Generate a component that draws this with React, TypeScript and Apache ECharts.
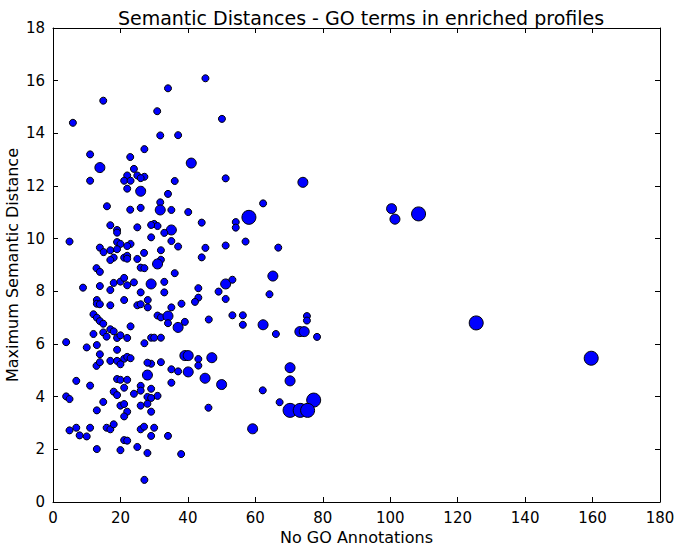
import React, { useEffect, useRef } from "react";
import * as echarts from "echarts";

const titleText = "Semantic Distances - GO terms in enriched profiles";
const xName = "No GO Annotations";
const yName = "Maximum Semantic Distance";
const xTicks = [0, 20, 40, 60, 80, 100, 120, 140, 160, 180];
const yTicks = [0, 2, 4, 6, 8, 10, 12, 14, 16, 18];

// [No GO annotations, max semantic distance, marker size class]
const points: [number, number, number][] = [
  [14.9, 15.24, 1], [5.9, 14.4, 1], [30.9, 14.84, 1], [31.8, 13.92, 1], [11, 13.2, 1], [22.9, 13.1, 1],
  [27.1, 13.4, 1], [13.9, 12.7, 2], [24, 12.65, 1], [22, 12.4, 1], [25, 12.4, 1], [27.1, 12.35, 1],
  [26, 12.3, 1], [21.1, 12.2, 1], [23, 12.2, 1], [11, 12.2, 1], [22, 11.9, 1], [26, 11.8, 2],
  [16, 11.23, 1], [22.9, 11.1, 1], [26, 11.17, 1], [31.8, 11.38, 1], [31.8, 11.09, 2],
  [45.2, 16.09, 1], [34.1, 15.71, 1], [50.1, 14.55, 1], [37.1, 13.93, 1], [41, 12.87, 2], [51.2, 12.29, 1],
  [36.1, 12.19, 1], [34.1, 11.7, 1], [35.1, 11.09, 1], [40.1, 11.01, 1], [62.3, 11.34, 1], [58.1, 10.81, 3],
  [44.1, 10.61, 1], [54.2, 10.63, 1], [54.2, 10.42, 1], [30, 10.56, 1], [31, 10.48, 1], [35.1, 10.33, 2],
  [33, 10.22, 1], [29.1, 10.05, 1], [35.1, 9.91, 1], [57.1, 9.89, 1], [37.1, 9.7, 1], [45.2, 9.65, 1],
  [51.2, 9.74, 1], [66.8, 9.66, 1], [32, 9.56, 1], [44.1, 9.29, 1], [32, 9.2, 1], [31, 9.04, 2],
  [36.1, 8.69, 1], [29.1, 8.28, 2], [33, 8.36, 1], [33, 7.96, 1], [51.2, 8.28, 2], [53.2, 8.44, 1],
  [65.2, 8.58, 2], [49.1, 7.99, 1], [43.1, 8.12, 1], [43.1, 7.76, 1], [51.2, 7.71, 1], [64.2, 7.89, 1],
  [42.1, 7.6, 1], [38.1, 7.53, 1], [35.1, 7.39, 1], [31, 7.08, 1], [32, 7.01, 1], [34.1, 7.06, 2],
  [34.1, 6.79, 1], [39.1, 6.84, 1], [37.1, 6.63, 2], [46.2, 6.93, 1], [53.2, 7.09, 1], [56.3, 7.09, 1],
  [56.3, 6.73, 1], [62.3, 6.73, 2], [66.1, 6.38, 1], [29.1, 6.24, 1], [30, 6.24, 1], [32, 6.24, 1],
  [39.1, 5.56, 2], [40.1, 5.56, 2], [43.1, 5.43, 1], [47.1, 5.48, 2],
  [29.1, 5.25, 1], [32, 5.31, 1], [35.1, 5.04, 1], [37.1, 4.96, 1], [40.1, 4.94, 2], [43.1, 5.18, 1],
  [45.1, 4.7, 2], [50, 4.46, 2], [35.1, 4.53, 1], [29.1, 4.3, 1], [31, 4.03, 1], [29.1, 3.43, 1],
  [46.1, 3.58, 1], [62.2, 4.24, 1], [30, 2.82, 1], [29.1, 2.51, 1], [34.1, 2.51, 1], [38, 1.82, 1],
  [59.2, 2.78, 2],
  [74.1, 12.14, 2], [75.3, 7.06, 1], [75.3, 6.89, 1], [73.2, 6.47, 2], [74.5, 6.47, 2], [78.3, 6.27, 1],
  [70.3, 5.1, 2], [70.3, 4.6, 2], [67.2, 3.79, 1],
  [100.4, 11.14, 2], [101.4, 10.74, 2], [108.4, 10.94, 3], [125.5, 6.8, 3], [159.6, 5.46, 3],
  [17, 10.51, 1], [19, 10.33, 1], [19, 10.23, 1], [25, 10.43, 1], [29.1, 10.52, 1], [4.9, 9.89, 1],
  [19, 9.87, 1], [20, 9.8, 1], [23, 9.8, 1], [22, 9.72, 1], [13.9, 9.66, 1], [15, 9.49, 1],
  [17, 9.56, 1], [19, 9.6, 1], [21.1, 9.28, 1], [22, 9.35, 1], [22, 9.24, 1], [25, 9.23, 1],
  [27, 9.46, 1], [18, 9.28, 1], [17, 9.19, 1], [26, 8.9, 1], [27.1, 8.88, 1], [12.9, 8.88, 1],
  [13.9, 8.74, 1], [18, 8.32, 1], [20, 8.37, 1], [21.1, 8.51, 1], [22, 8.23, 1], [24, 8.34, 1],
  [8.9, 8.14, 1], [13.9, 8.2, 1], [17, 8.05, 1], [26, 7.96, 1], [13, 7.67, 1], [13, 7.53, 1],
  [13.9, 7.51, 1], [17, 7.47, 1], [21.1, 7.67, 1], [25, 7.47, 1], [26, 7.51, 1], [28.1, 7.67, 1],
  [28.1, 7.39, 1], [12, 7.13, 1], [13, 7.0, 1], [13.9, 6.87, 1], [14.9, 6.77, 1], [23, 6.67, 1],
  [17, 6.56, 1], [18, 6.48, 1], [12, 6.38, 1], [14.9, 6.44, 1], [15.9, 6.28, 1], [19, 6.23, 1],
  [20, 6.33, 1], [22, 6.23, 1], [3.9, 6.07, 1], [10, 5.87, 1], [13, 5.96, 1], [19, 5.78, 1],
  [27.1, 6.03, 1], [13.9, 5.61, 1], [21.1, 5.44, 1], [22, 5.51, 1], [23, 5.46, 1],
  [17, 5.36, 1], [19, 5.36, 1], [20, 5.23, 1], [12.9, 5.17, 1], [13.9, 5.31, 1], [28, 5.29, 1],
  [28, 4.82, 2], [6.9, 4.6, 1], [11, 4.42, 1], [19, 4.67, 1], [20, 4.64, 1], [22, 4.64, 1],
  [26, 4.41, 1], [26, 4.23, 1], [18, 4.19, 1], [19, 4.06, 1], [21.1, 4.34, 1], [24, 4.11, 1],
  [28, 3.99, 1], [29.1, 3.95, 1], [3.9, 4.01, 1], [4.9, 3.91, 1], [14.9, 3.8, 1], [13, 3.48, 1],
  [20, 3.66, 1], [21.1, 3.72, 1], [22, 3.43, 1], [21.1, 3.25, 1], [26, 3.66, 1], [28, 3.73, 1],
  [4.9, 2.72, 1], [6.9, 2.82, 1], [7.9, 2.53, 1], [10, 2.49, 1], [11, 2.82, 1], [15.9, 2.82, 1],
  [17, 2.76, 1], [18, 2.95, 1], [26, 2.76, 1], [27, 2.86, 1], [21.1, 2.35, 1], [22, 2.33, 1],
  [13, 2.01, 1], [20, 1.97, 1], [25, 2.09, 1], [28, 1.86, 1], [27.1, 0.84, 1],
  [77.3, 3.87, 3], [70.3, 3.48, 3], [73.3, 3.48, 3], [75.5, 3.48, 3],
];

const markerDiameters = [7, 10, 14];

const FONT = "DejaVu Sans";

function axisBase(min: number, max: number, interval: number, show: boolean) {
  return {
    type: "value" as const,
    min,
    max,
    interval,
    splitLine: { show: false },
    axisLine: { show: true, onZero: false, lineStyle: { color: "#000", width: 1 } },
    axisTick: { show: true, inside: true, length: 5, lineStyle: { color: "#000" } },
    axisLabel: {
      show,
      color: "#000",
      fontFamily: FONT,
      fontSize: 15,
      margin: 8,
    },
  };
}

export default function App() {
  const ref = useRef<HTMLDivElement>(null);
  useEffect(() => {
    if (!ref.current) return;
    const chart = echarts.init(ref.current, undefined, { renderer: "svg" });
    const xMax = xTicks[xTicks.length - 1];
    const yMax = yTicks[yTicks.length - 1];
    const xInt = xTicks[1] - xTicks[0];
    const yInt = yTicks[1] - yTicks[0];
    chart.setOption({
      animation: false,
      backgroundColor: "#fff",
      title: {
        text: titleText,
        left: 356,
        top: 3,
        textAlign: "center",
        textStyle: { fontFamily: FONT, fontSize: 19, fontWeight: "normal", color: "#000" },
      },
      grid: { left: 53, right: 25, top: 28, bottom: 48, containLabel: false, outerBoundsMode: "none" },
      xAxis: [
        {
          ...axisBase(xTicks[0], xMax, xInt, true),
          position: "bottom",
          name: xName,
          nameLocation: "middle",
          nameGap: 27,
          nameMoveOverlap: false,
          nameTextStyle: { fontFamily: FONT, fontSize: 16, color: "#000" },
        },
        { ...axisBase(xTicks[0], xMax, xInt, false), position: "top" },
      ],
      yAxis: [
        {
          ...axisBase(yTicks[0], yMax, yInt, true),
          position: "left",
          name: yName,
          nameLocation: "middle",
          nameGap: 33,
          nameMoveOverlap: false,
          nameTextStyle: { fontFamily: FONT, fontSize: 16, color: "#000" },
        },
        { ...axisBase(yTicks[0], yMax, yInt, false), position: "right" },
      ],
      series: [
        {
          type: "scatter",
          xAxisIndex: 0,
          yAxisIndex: 0,
          data: points,
          symbol: "circle",
          symbolSize: (v: number[]) => markerDiameters[v[2] - 1],
          itemStyle: { color: "#0000ff", borderColor: "#000", borderWidth: 1, opacity: 1 },
          emphasis: { disabled: true },
        },
      ],
    });
    return () => chart.dispose();
  }, []);
  return <div ref={ref} style={{ width: 685, height: 550, position: "absolute", left: 0, top: 0 }} />;
}
